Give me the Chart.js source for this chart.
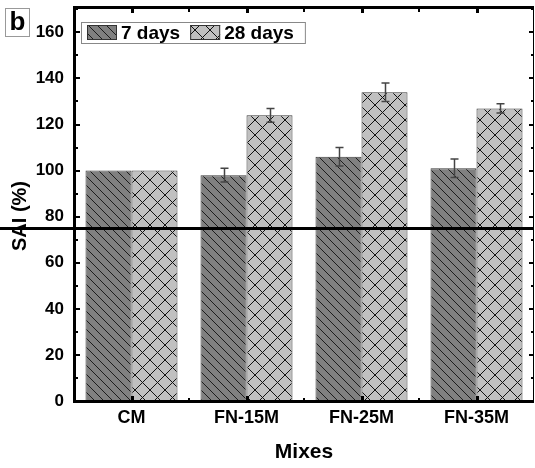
<!DOCTYPE html>
<html>
<head>
<meta charset="utf-8">
<script src="https://cdn.jsdelivr.net/npm/chart.js@4.4.1/dist/chart.umd.min.js"></script>
<style>
  html, body { margin: 0; padding: 0; background: #fff; }
  #wrap { position: relative; width: 535px; height: 468px; }
</style>
</head>
<body>
<div id="wrap"><canvas id="c" width="535" height="468"></canvas></div>
<script>
// SAI of the mixes at 7 and 28 days, with error bars and the 75 % limit line.
const mixes = ['CM', 'FN-15M', 'FN-25M', 'FN-35M'];
const sai7 = [100, 98, 106, 101];
const sai7Err = [0, 3, 4, 4];
const sai28 = [100, 124, 134, 127];
const sai28Err = [0, 3, 4, 2];
const limitLine = 75;
const yTicks = [0, 20, 40, 60, 80, 100, 120, 140, 160];
const yMinor = [10, 30, 50, 70, 90, 110, 130, 150, 170];

const FONT = '"Liberation Sans", Arial, sans-serif';

// Pixel-drawn hatch tiles so the lines stay crisp like the original plot.
function hatch(bg, ink, step, cross) {
  const c = document.createElement('canvas');
  c.width = c.height = step;
  const g = c.getContext('2d');
  g.fillStyle = bg;
  g.fillRect(0, 0, step, step);
  g.fillStyle = ink;
  for (let i = 0; i < step; i++) {
    g.fillRect(i, i, 1, 1);
    if (cross) g.fillRect(step - 1 - i, i, 1, 1);
  }
  return g.createPattern(c, 'repeat');
}

const pat7 = hatch('#808080', '#1c1c1c', 9, false);
const pat28 = hatch('#c0c0c0', '#111111', 15, true);

// Scales reserve room for half a label at the ends; the frame here doesn't need it.
const noPad = s => { s.paddingTop = 0; s.paddingBottom = 0; s.paddingLeft = 0; s.paddingRight = 0; };

const decor = {
  id: 'decor',
  afterDatasetsDraw(chart) {
    const { ctx, chartArea: a, scales: { x, y } } = chart;
    ctx.save();

    // 75 % limit line, runs across the whole width
    const ly = Math.round(y.getPixelForValue(limitLine));
    ctx.fillStyle = '#000';
    ctx.fillRect(0, ly - 1, a.right, 3);

    // error bars
    ctx.strokeStyle = '#444';
    ctx.lineWidth = 1.5;
    chart.data.datasets.forEach((ds, di) => {
      chart.getDatasetMeta(di).data.forEach((bar, i) => {
        const e = ds.errors[i];
        if (!e) return;
        const bx = Math.round(bar.x) + 0.5;
        const t = y.getPixelForValue(ds.data[i] + e);
        const b = y.getPixelForValue(ds.data[i] - e);
        ctx.beginPath();
        ctx.moveTo(bx, t); ctx.lineTo(bx, b);
        ctx.moveTo(bx - 4, t); ctx.lineTo(bx + 4, t);
        ctx.moveTo(bx - 4, b); ctx.lineTo(bx + 4, b);
        ctx.stroke();
      });
    });

    // frame: thick left/top/bottom, thin right
    ctx.fillStyle = '#000';
    ctx.fillRect(a.left - 1, a.top - 1, 3, a.bottom - a.top + 3);
    ctx.fillRect(a.left - 1, a.top - 1, a.right - a.left + 1, 3);
    ctx.fillRect(a.left - 1, a.bottom - 1, a.right - a.left + 1, 3);
    ctx.fillRect(a.right - 1, a.top, 1, a.bottom - a.top);

    // inward ticks
    yTicks.forEach(v => {
      const p = Math.round(y.getPixelForValue(v));
      ctx.fillRect(a.left + 2, p - 1, 4, 2);
      ctx.fillRect(a.right - 5, p - 1, 4, 2);
    });
    yMinor.forEach(v => {
      const p = Math.round(y.getPixelForValue(v));
      ctx.fillRect(a.left + 2, p - 1, 2, 2);
      ctx.fillRect(a.right - 3, p - 1, 2, 2);
    });
    mixes.forEach((m, i) => {
      const p = Math.round(x.getPixelForTick(i));
      ctx.fillRect(p - 1, a.bottom - 5, 3, 4);
      ctx.fillRect(p - 1, a.top + 2, 3, 4);
      if (i < mixes.length - 1) {
        const q = Math.round((p + x.getPixelForTick(i + 1)) / 2);
        ctx.fillRect(q - 1, a.bottom - 3, 2, 2);
        ctx.fillRect(q - 1, a.top + 2, 2, 3);
      }
    });

    // legend box inside the plot
    ctx.font = 'bold 19px ' + FONT;
    ctx.textBaseline = 'middle';
    ctx.textAlign = 'left';
    const lx = a.left + 7, lt = a.top + 15, lh = 21;
    let cx = lx + 6;
    const spans = [];
    chart.data.datasets.forEach(ds => {
      spans.push({ ds, sx: cx });
      cx += 30 + 4;
      spans[spans.length - 1].tx = cx;
      cx += ctx.measureText(ds.label).width + 10;
    });
    const lw = cx - lx + 1;
    ctx.fillStyle = '#fff';
    ctx.fillRect(lx, lt, lw, lh);
    ctx.strokeStyle = '#888';
    ctx.lineWidth = 1;
    ctx.strokeRect(lx + 0.5, lt + 0.5, lw, lh);
    spans.forEach(s => {
      ctx.fillStyle = s.ds.backgroundColor;
      ctx.fillRect(s.sx, lt + 3, 30, 15);
      ctx.strokeStyle = '#333';
      ctx.strokeRect(s.sx + 0.5, lt + 3.5, 29, 14);
      ctx.fillStyle = '#000';
      ctx.fillText(s.ds.label, s.tx, lt + lh / 2 + 1);
    });

    // panel letter
    ctx.fillStyle = '#fff';
    ctx.fillRect(5, 8, 24, 28);
    ctx.strokeStyle = '#999';
    ctx.strokeRect(5.5, 8.5, 24, 28);
    ctx.fillStyle = '#000';
    ctx.font = 'bold 26px ' + FONT;
    ctx.textAlign = 'center';
    ctx.fillText('b', 17.5, 23);

    // y title
    ctx.save();
    ctx.translate(20, (a.top + a.bottom) / 2 + 12);
    ctx.rotate(-Math.PI / 2);
    ctx.font = 'bold 20px ' + FONT;
    ctx.fillText('SAI (%)', 0, 0);
    ctx.restore();

    ctx.restore();
  }
};

new Chart(document.getElementById('c'), {
  type: 'bar',
  data: {
    labels: mixes,
    datasets: [
      { label: '7 days', data: sai7, errors: sai7Err, backgroundColor: pat7,
        borderColor: '#3a3a3a', borderWidth: 1 },
      { label: '28 days', data: sai28, errors: sai28Err, backgroundColor: pat28,
        borderColor: '#3a3a3a', borderWidth: 1 }
    ]
  },
  options: {
    responsive: false,
    animation: false,
    events: [],
    layout: { padding: { top: 7, right: 1, left: 0, bottom: 0 } },
    datasets: { bar: { categoryPercentage: 0.8, barPercentage: 1.0 } },
    plugins: { legend: { display: false }, tooltip: { enabled: false } },
    scales: {
      x: {
        grid: { display: false, drawTicks: false },
        border: { display: false },
        ticks: { color: '#000', padding: 6, font: { family: FONT, size: 18, weight: 'bold' } },
        title: { display: true, text: 'Mixes', color: '#000', padding: { top: 0, bottom: 3 },
                 font: { family: FONT, size: 21, weight: 'bold' } },
        afterFit: s => { s.height = 67; noPad(s); }
      },
      y: {
        min: 0,
        max: 171,
        afterBuildTicks: s => { s.ticks = yTicks.map(v => ({ value: v })); },
        grid: { display: false, drawTicks: false },
        border: { display: false },
        ticks: { color: '#000', padding: 10, font: { family: FONT, size: 17, weight: 'bold' } },
        afterFit: s => { s.width = 74; noPad(s); }
      }
    }
  },
  plugins: [decor]
});
</script>
</body>
</html>
